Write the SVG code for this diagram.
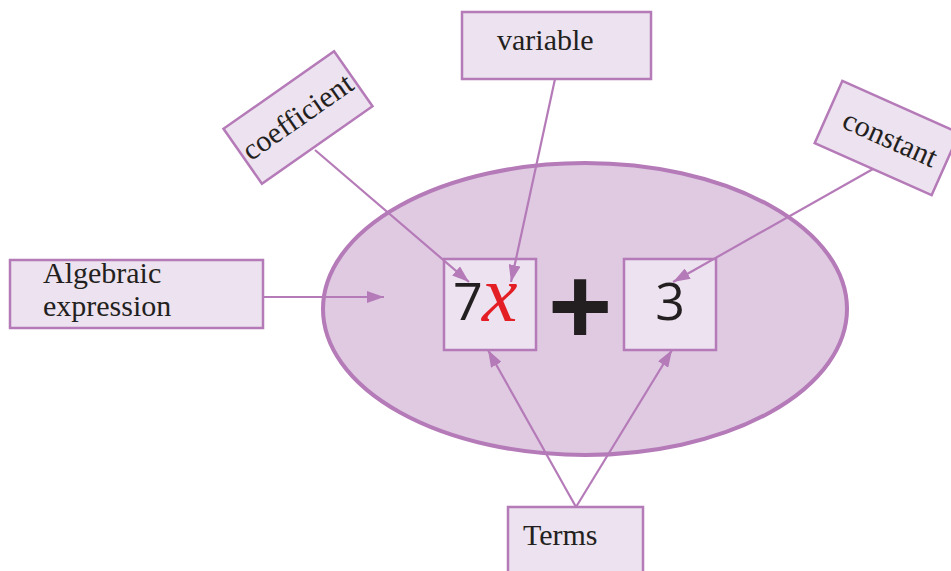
<svg xmlns="http://www.w3.org/2000/svg" width="951" height="571" viewBox="0 0 951 571">
<defs>
<style>
.box{fill:#ede2ef;stroke:#b57ab8;stroke-width:2.5}
.lbl{font-family:"Liberation Serif","Times New Roman",serif;font-size:30px;fill:#231f20}
.conn{stroke:#b57ab8;stroke-width:2.2;fill:none}
.num{font-family:"Open Sans","Liberation Sans",sans-serif;font-size:52px;fill:#231f20}
</style>
<marker id="ah" markerUnits="userSpaceOnUse" markerWidth="18" markerHeight="12" refX="17" refY="6" orient="auto">
<path d="M0,0 L17,6 L0,12 z" fill="#b57ab8"/>
</marker>
</defs>
<rect width="951" height="571" fill="#ffffff"/>
<g id="ellipse">
<ellipse cx="585" cy="309" rx="262" ry="146" fill="#dfcae2" stroke="#b57ab8" stroke-width="4"/>
</g>
<g id="term1">
<rect class="box" x="444" y="259" width="92" height="91"/>
<text class="num" x="453" y="320">7</text>
<text x="482" y="321" font-family="'Liberation Serif','Times New Roman',serif" font-style="italic" font-size="80" fill="#e31e24">x</text>
</g>
<g id="plus">
<text x="580" y="344" text-anchor="middle" font-family="'Liberation Sans',Arial,sans-serif" font-weight="bold" font-size="110" fill="#231f20">+</text>
</g>
<g id="term2">
<rect class="box" x="624" y="259" width="92" height="91"/>
<text class="num" x="670" y="320" text-anchor="middle">3</text>
</g>
<g id="algebraic">
<rect class="box" x="10" y="260" width="253" height="68"/>
<text class="lbl" x="43" y="283">Algebraic</text>
<text class="lbl" x="43" y="316">expression</text>
</g>
<g id="variable">
<rect class="box" x="462" y="12" width="189" height="67"/>
<text class="lbl" x="497" y="50">variable</text>
</g>
<g id="coefficient" transform="translate(298,117.5) rotate(-35)">
<rect class="box" x="-67.5" y="-33.5" width="135" height="67"/>
<text class="lbl" x="0" y="9" text-anchor="middle" font-size="27">coefficient</text>
</g>
<g id="constant" transform="translate(887,138) rotate(24)">
<rect class="box" x="-64" y="-34" width="128" height="68"/>
<text class="lbl" x="3" y="9" text-anchor="middle" font-size="28">constant</text>
</g>
<g id="terms">
<rect class="box" x="508" y="507" width="135" height="70"/>
<text class="lbl" x="523" y="545">Terms</text>
</g>
<g id="connectors">
<line class="conn" x1="263" y1="297" x2="384" y2="297" marker-end="url(#ah)"/>
<line class="conn" x1="315" y1="150" x2="469" y2="282" marker-end="url(#ah)"/>
<line class="conn" x1="555" y1="79" x2="511" y2="282" marker-end="url(#ah)"/>
<line class="conn" x1="873" y1="169" x2="673" y2="282" marker-end="url(#ah)"/>
<line class="conn" x1="576" y1="507" x2="488" y2="350" marker-end="url(#ah)"/>
<line class="conn" x1="576" y1="507" x2="672" y2="350" marker-end="url(#ah)"/>
</g>
</svg>
